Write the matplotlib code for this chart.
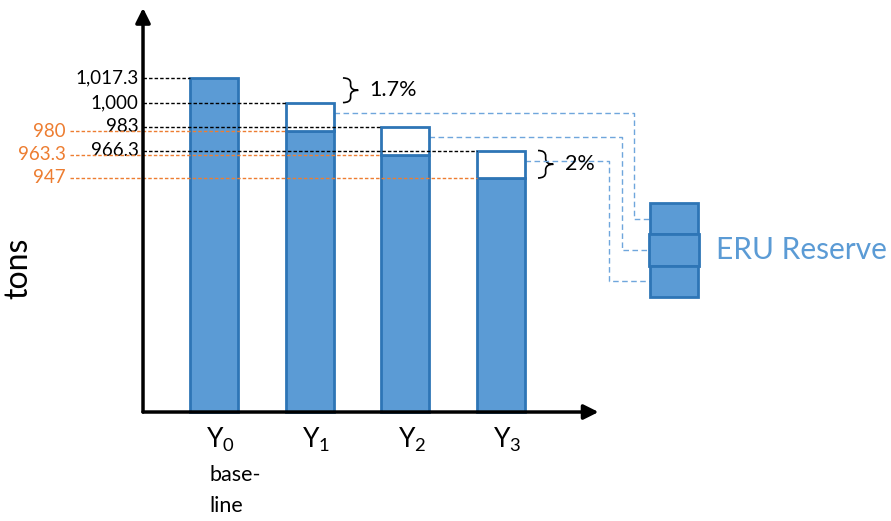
import matplotlib.pyplot as plt
from matplotlib.path import Path
from matplotlib.patches import PathPatch

plt.rcParams['font.family'] = ['Lato', 'DejaVu Sans']
plt.rcParams['mathtext.fontset'] = 'custom'
plt.rcParams['mathtext.rm'] = 'Lato'
plt.rcParams['mathtext.default'] = 'regular'

# chart data
categories = ['Y$_0$', 'Y$_1$', 'Y$_2$', 'Y$_3$']
totals = [1017.3, 1000, 983, 966.3]
filled = [1017.3, 980, 963.3, 947]
total_labels = ['1,017.3', '1,000', '983', '966.3']
filled_labels = ['980', '963.3', '947']
pct_labels = ['1.7%', '2%']
reserve_size = [22, 22, 22]

BLUE = '#5B9BD5'
EDGE = '#2E75B6'
ORANGE = '#ED7D31'
LINK = '#6FA6DC'

base = 782.5
fig = plt.figure(figsize=(8.91, 5.21), dpi=100)
ax = fig.add_axes([0, 0, 1, 1])
ax.set_xlim(-2.237, 7.077)
ax.set_ylim(705.9, 1072.1)
ax.axis('off')

xs = list(range(len(categories)))
w = 0.5

# bars: solid part up to the filled level, white box up to the total
ax.bar(xs, [f - base for f in filled], bottom=base, width=w,
       color=BLUE, edgecolor=EDGE, linewidth=2, zorder=2)
ax.bar(xs[1:], [t - f for t, f in zip(totals[1:], filled[1:])], bottom=filled[1:],
       width=w, color='white', edgecolor=EDGE, linewidth=2, zorder=2)

# axes with arrows
yaxis_x = -0.742
ax.annotate('', xy=(yaxis_x, 1066.5), xytext=(yaxis_x, base),
            arrowprops=dict(arrowstyle='-|>', lw=2.5, color='black', mutation_scale=22,
                            shrinkA=0, shrinkB=0), zorder=5)
ax.annotate('', xy=(4.02, base), xytext=(yaxis_x, base),
            arrowprops=dict(arrowstyle='-|>', lw=2.5, color='black', mutation_scale=22,
                            shrinkA=0, shrinkB=0), zorder=5)

# guide lines to the bar tops
for i, (v, lab) in enumerate(zip(totals, total_labels)):
    ax.plot([yaxis_x, xs[i] - w / 2], [v, v], color='black', lw=1,
            ls=(0, (2.5, 1.5)), zorder=3)
    ax.text(-0.79, v, lab, ha='right', va='center', fontsize=13.5, color='black')

for i, (v, lab) in enumerate(zip(filled[1:], filled_labels)):
    ax.plot([-1.505, xs[i + 1] - w / 2], [v, v], color=ORANGE, lw=1,
            ls=(0, (2.5, 1.5)), zorder=3)
    ax.text(-1.55, v, lab, ha='right', va='center', fontsize=13.5, color=ORANGE)


def brace(x, top, bot, bw):
    mid = (top + bot) / 2
    r = (top - bot) * 0.2
    verts = [(x, top), (x + bw / 2, top), (x + bw / 2, top - r),
             (x + bw / 2, mid + r),
             (x + bw / 2, mid), (x + bw, mid),
             (x + bw / 2, mid), (x + bw / 2, mid - r),
             (x + bw / 2, bot + r),
             (x + bw / 2, bot), (x, bot)]
    codes = [Path.MOVETO, Path.CURVE3, Path.CURVE3, Path.LINETO,
             Path.CURVE3, Path.CURVE3, Path.CURVE3, Path.CURVE3,
             Path.LINETO, Path.CURVE3, Path.CURVE3]
    ax.add_patch(PathPatch(Path(verts, codes), fill=False, lw=1.2, color='black'))


brace(1.348, totals[0], totals[1], 0.16)
ax.text(1.62, (totals[0] + totals[1]) / 2, pct_labels[0], ha='left', va='center', fontsize=15.5)
brace(3.387, totals[3], filled[3], 0.16)
ax.text(3.67, (totals[3] + filled[3]) / 2, pct_labels[1], ha='left', va='center', fontsize=15.5)

# reserve stack
rx = 4.81
bottoms = [863.3 + reserve_size[2] + reserve_size[1], 863.3 + reserve_size[2], 863.3]
widths = [w, w + 0.02, w]
for b, h, ww in zip(bottoms, reserve_size, widths):
    ax.bar(rx, h, bottom=b, width=ww, color=BLUE, edgecolor=EDGE, linewidth=2, zorder=2)
ax.text(5.247, 896.4, 'ERU Reserve', ha='left', va='center', fontsize=21.5, color=BLUE)

# dashed links from the white boxes to the reserve
turn_x = [4.39, 4.265, 4.13]
for i, tx, b, h in zip(xs[1:], turn_x, bottoms, reserve_size):
    y0 = totals[i] - 0.37 * (totals[i] - filled[i])
    y1 = b + h / 2
    ax.plot([i + w / 2, tx, tx, rx - w / 2], [y0, y0, y1, y1], color=LINK, lw=1,
            ls=(0, (4, 2.5)), zorder=1)

# category labels
for x, c in zip(xs, categories):
    ax.text(x + 0.07, 762.8, c, ha='center', va='center', fontsize=19)
ax.text(-0.05, 738, 'base-', ha='left', va='center', fontsize=15.5)
ax.text(-0.05, 716.5, 'line', ha='left', va='center', fontsize=15.5)

ax.text(-2.049, 883.7, 'tons', ha='center', va='center', fontsize=23, rotation=90)

fig.savefig('out.png', dpi=100)
